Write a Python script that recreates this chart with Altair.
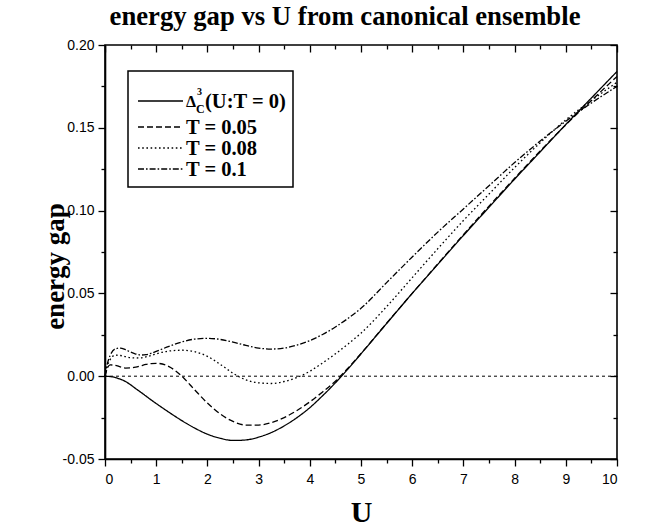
import altair as alt
import pandas as pd

# ---------------- data ----------------
U = [0, 0.05, 0.1, 0.2, 0.3, 0.4, 0.5, 0.6, 0.7, 0.8, 0.9, 1.0,
     1.25, 1.5, 1.75, 2.0, 2.25, 2.5, 2.75, 3.0, 3.25, 3.5, 3.75, 4.0,
     4.25, 4.5, 4.75, 5.0, 5.5, 6.0, 6.5, 7.0, 7.5, 8.0, 8.5, 9.0, 9.5, 10.0]

gap_T0 = [0, -0.0001, -0.0002, -0.0008, -0.0018, -0.0032, -0.0052, -0.0075, -0.0097, -0.0120, -0.0143, -0.0165,
          -0.0218, -0.0268, -0.0313, -0.0350, -0.0375, -0.0388, -0.0385, -0.0368, -0.0340, -0.0300, -0.0250, -0.0190,
          -0.0118, -0.0040, 0.0045, 0.0135, 0.0318, 0.0500, 0.0675, 0.0850, 0.1020, 0.1190, 0.1355, 0.1520, 0.1680, 0.1840]

gap_T005 = [0, 0.0050, 0.0068, 0.0066, 0.0056, 0.0049, 0.0050, 0.0055, 0.0063, 0.0071, 0.0076, 0.0078,
            0.0058, 0.0000, -0.0082, -0.0162, -0.0228, -0.0273, -0.0295, -0.0295, -0.0280, -0.0250, -0.0207, -0.0155,
            -0.0095, -0.0030, 0.0050, 0.0137, 0.0320, 0.0500, 0.0678, 0.0855, 0.1027, 0.1195, 0.1360, 0.1518, 0.1665, 0.1810]

gap_T008 = [0, 0.0065, 0.0100, 0.0127, 0.0125, 0.0118, 0.0112, 0.0110, 0.0111, 0.0117, 0.0125, 0.0135,
            0.0152, 0.0157, 0.0148, 0.0120, 0.0072, 0.0018, -0.0022, -0.0040, -0.0044, -0.0032, -0.0008, 0.0030,
            0.0080, 0.0135, 0.0195, 0.0260, 0.0420, 0.0595, 0.0770, 0.0940, 0.1100, 0.1260, 0.1410, 0.1548, 0.1665, 0.1775]

gap_T01 = [0, 0.0080, 0.0125, 0.0165, 0.0170, 0.0160, 0.0146, 0.0134, 0.0128, 0.0130, 0.0138, 0.0150,
           0.0180, 0.0207, 0.0224, 0.0229, 0.0222, 0.0206, 0.0186, 0.0170, 0.0164, 0.0170, 0.0188, 0.0215,
           0.0252, 0.0297, 0.0350, 0.0410, 0.0565, 0.0720, 0.0870, 0.1010, 0.1150, 0.1290, 0.1420, 0.1540, 0.1650, 0.1750]

series_names = ["T = 0", "T = 0.05", "T = 0.08", "T = 0.1"]
legend_labels = ["(U:T = 0)", "T = 0.05", "T = 0.08", "T = 0.1"]

x_major = [0, 1, 2, 3, 4, 5, 6, 7, 8, 9, 10]
x_minor = [0.5, 1.5, 2.5, 3.5, 4.5, 5.5, 6.5, 7.5, 8.5, 9.5]
y_major = [-0.05, 0.0, 0.05, 0.10, 0.15, 0.20]
y_minor = [-0.025, 0.025, 0.075, 0.125, 0.175]

TITLE = "energy gap vs U from canonical ensemble"

# ---------------- styles ----------------
dash_styles = [[1, 0], [6, 3], [1.6, 2.6], [6, 2, 1.6, 2]]
SERIF = "Liberation Serif"
SANS = "Liberation Sans"
W, H = 512, 414

rows = []
for name, vals in zip(series_names, [gap_T0, gap_T005, gap_T008, gap_T01]):
    for u, g in zip(U, vals):
        rows.append({"series": name, "U": u, "gap": g})
df = pd.DataFrame(rows)

xscale = alt.Scale(domain=[0, 10], nice=False, zero=False)
yscale = alt.Scale(domain=[-0.05, 0.2], nice=False, zero=False)

MAJ, MIN = 7, 4


def axis_layer(xaxis, yaxis):
    return alt.Chart(df).mark_line(strokeOpacity=0).encode(
        x=alt.X("U:Q", scale=xscale, axis=xaxis),
        y=alt.Y("gap:Q", scale=yscale, axis=yaxis),
        detail="series:N",
    )


lines = alt.Chart(df).mark_line(color="black", strokeWidth=1.3, interpolate="monotone").encode(
    x=alt.X("U:Q", scale=xscale, axis=alt.Axis(
        orient="bottom", values=x_major, format="d", tickSize=MAJ, labelPadding=6,
        labelFont=SANS, labelFontSize=14, title="U", titleFont=SERIF, titleFontSize=30,
        titleFontWeight="bold", titleBaseline="alphabetic", titleY=62, titleX=W / 2)),
    y=alt.Y("gap:Q", scale=yscale, axis=alt.Axis(
        orient="left", values=y_major, format=".2f", tickSize=MAJ, labelPadding=4,
        labelExpr="replace(datum.label, '\u2212', '-')",
        labelFont=SANS, labelFontSize=14, title="energy gap", titleFont=SERIF, titleFontSize=27,
        titleFontWeight="bold", titleAngle=270, titleBaseline="alphabetic", titleX=-42, titleY=H / 2 + 14)),
    strokeDash=alt.StrokeDash("series:N", scale=alt.Scale(domain=series_names, range=dash_styles), legend=None),
)

minor_bl = axis_layer(
    alt.Axis(orient="bottom", values=x_minor, tickSize=MIN, labels=False, domain=False, title=""),
    alt.Axis(orient="left", values=y_minor, tickSize=MIN, labels=False, domain=False, title=""),
)
major_tr = axis_layer(
    alt.Axis(orient="top", values=x_major, tickSize=MAJ, offset=-MAJ, labels=False, domain=False, title=""),
    alt.Axis(orient="right", values=y_major, tickSize=MAJ, offset=-MAJ, labels=False, domain=False, title=""),
)
minor_tr = axis_layer(
    alt.Axis(orient="top", values=x_minor, tickSize=MIN, offset=-MIN, labels=False, domain=False, title=""),
    alt.Axis(orient="right", values=y_minor, tickSize=MIN, offset=-MIN, labels=False, domain=False, title=""),
)

zero_line = alt.Chart(pd.DataFrame({"z": [0]})).mark_rule(
    color="black", strokeWidth=1, strokeDash=[3, 3]).encode(
    y=alt.YDatum(0, scale=yscale, axis=None))

one = pd.DataFrame({"k": [0]})

# chart title, placed above the plot area
title_mark = alt.Chart(one).mark_text(
    font=SERIF, fontSize=26.7, fontWeight="bold", align="center", baseline="alphabetic", color="black"
).encode(x=alt.value(240), y=alt.value(-20), text=alt.value(TITLE))

# ---------------- legend (drawn by hand) ----------------
LX0, LX1, LY0, LY1 = 23, 188, 26, 142
row_y = [56, 82, 103, 124]
legend_layers = [
    alt.Chart(one).mark_rect(fill="white", stroke="black", strokeWidth=1.5).encode(
        x=alt.value(LX0), x2=alt.value(LX1), y=alt.value(LY0), y2=alt.value(LY1))
]
for i, lab in enumerate(legend_labels):
    ry = row_y[i]
    legend_layers.append(
        alt.Chart(one).mark_rule(color="black", strokeWidth=1.3, strokeDash=dash_styles[i]).encode(
            x=alt.value(33), x2=alt.value(78), y=alt.value(ry)))
    tx = 81 if i > 0 else 100
    legend_layers.append(
        alt.Chart(one).mark_text(font=SERIF, fontSize=20.5, fontWeight="bold", align="left",
                                 baseline="alphabetic", color="black").encode(
            x=alt.value(tx), y=alt.value(ry + 7), text=alt.value(lab)))
# Delta with super/subscripts for the first entry
legend_layers += [
    alt.Chart(one).mark_text(font=SERIF, fontSize=16, fontWeight="bold", align="left",
                             baseline="alphabetic", color="black").encode(
        x=alt.value(81), y=alt.value(row_y[0] + 6), text=alt.value("\u0394")),
    alt.Chart(one).mark_text(font=SERIF, fontSize=10, fontWeight="bold", align="left",
                             baseline="alphabetic", color="black").encode(
        x=alt.value(92), y=alt.value(row_y[0] - 6), text=alt.value("3")),
    alt.Chart(one).mark_text(font=SERIF, fontSize=12, fontWeight="bold", align="left",
                             baseline="alphabetic", color="black").encode(
        x=alt.value(91), y=alt.value(row_y[0] + 12), text=alt.value("C")),
]

chart = alt.layer(zero_line, lines, minor_bl, major_tr, minor_tr, title_mark, *legend_layers).resolve_axis(
    x="independent", y="independent"
).properties(
    width=W, height=H,
    autosize=alt.AutoSizeParams(type="none"),
    padding={"left": 105, "top": 45, "right": 29, "bottom": 68},
).configure_view(
    stroke="black", strokeWidth=1.6
).configure_axis(
    grid=False, tickColor="black", tickWidth=1.3, domainColor="black", domainWidth=1.6,
    labelColor="black", titleColor="black"
)

chart.save("out.html", embed_options={"renderer": "svg", "actions": False})
